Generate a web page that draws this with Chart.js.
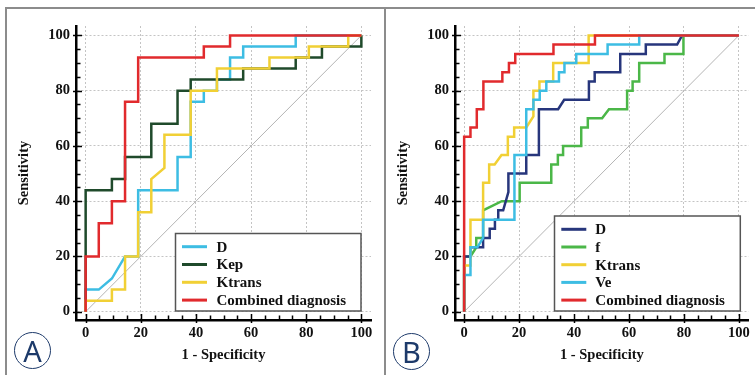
<!DOCTYPE html>
<html>
<head>
<meta charset="utf-8">
<script src="https://cdn.jsdelivr.net/npm/chart.js@4.4.0/dist/chart.umd.min.js"></script>
<style>
    html, body { margin: 0; padding: 0; background: #fff; }
    #wrap { position: relative; width: 755px; height: 375px; overflow: hidden; }
    #wrap canvas { position: absolute; top: 0; }
    .rule { position: absolute; background: #8c8c8c; }
    .badge {
        position: absolute; width: 35px; height: 35px; border: 1.5px solid #1d3a6a;
        border-radius: 50%; color: #1d3a6a; font: 29px "Noto Sans", sans-serif;
        text-align: center; line-height: 35px;
    }
</style>
</head>
<body>
<div id="wrap">
    <div class="rule" style="left:6px;top:7px;width:749px;height:1.5px"></div>
    <div class="rule" style="left:5px;top:7px;width:1.5px;height:368px"></div>
    <div class="rule" style="left:384px;top:7px;width:1.5px;height:368px"></div>
    <canvas id="chartA" width="385" height="375" style="left:0"></canvas>
    <canvas id="chartB" width="370" height="375" style="left:385px"></canvas>
    <div class="badge" style="left:14px;top:332px">A</div>
    <div class="badge" style="left:393px;top:333px">B</div>
</div>
<script>
const tickValues = [0, 20, 40, 60, 80, 100];
const xTitle = "1 - Specificity";
const yTitle = "Sensitivity";

// Panel A
const aLabels = ["D", "Kep", "Ktrans", "Combined diagnosis"];
const aDx = [0, 0, 4.76, 9.52, 14.29, 19.05, 19.05, 33.33, 33.33, 38.1, 38.1, 42.86, 42.86, 47.62, 47.62, 52.38, 52.38, 57.14, 57.14, 76.19, 76.19, 100];
const aDy = [0, 8, 8, 12, 20, 20, 44, 44, 56, 56, 76, 76, 80, 80, 84, 84, 92, 92, 96, 96, 100, 100];
const aKepX = [0, 0, 9.52, 9.52, 14.29, 14.29, 23.81, 23.81, 33.33, 33.33, 38.1, 38.1, 57.14, 57.14, 76.19, 76.19, 85.71, 85.71, 100, 100];
const aKepY = [0, 44, 44, 48, 48, 56, 56, 68, 68, 80, 80, 84, 84, 88, 88, 92, 92, 96, 96, 100];
const aKtransX = [0, 0, 9.52, 9.52, 14.29, 14.29, 19.05, 19.05, 23.81, 23.81, 28.57, 28.57, 38.1, 38.1, 47.62, 47.62, 66.67, 66.67, 80.95, 80.95, 95.24, 95.24, 100];
const aKtransY = [0, 4, 4, 8, 8, 20, 20, 36, 36, 48, 52, 64, 64, 80, 80, 88, 88, 92, 92, 96, 96, 100, 100];
const aCombX = [0, 0, 4.76, 4.76, 9.52, 9.52, 14.29, 14.29, 19.05, 19.05, 42.86, 42.86, 52.38, 52.38, 100];
const aCombY = [0, 20, 20, 32, 32, 40, 40, 76, 76, 92, 92, 96, 96, 100, 100];

// Panel B
const bLabels = ["D", "f", "Ktrans", "Ve", "Combined diagnosis"];
const bDx = [0, 0, 2.3, 2.3, 6.9, 6.9, 9.3, 9.3, 11.2, 11.2, 12.4, 12.4, 14.2, 16.1, 16.1, 22.6, 22.6, 27.2, 27.2, 34.2, 36.4, 45.4, 45.4, 47.5, 47.5, 56.8, 56.8, 66.1, 66.1, 77.5, 79.3, 100];
const bDy = [0, 20, 20, 23.3, 23.3, 26.7, 26.7, 30, 30, 33.3, 33.3, 36.7, 36.7, 43.3, 50, 50, 56.7, 56.7, 73.3, 73.3, 76.7, 76.7, 83.3, 83.3, 86.7, 86.7, 93.3, 93.3, 96.7, 96.7, 100, 100];
const bFx = [0, 0, 2.3, 4.4, 4.4, 6.9, 6.9, 13.7, 20.2, 20.2, 31.7, 31.7, 34.1, 34.1, 36, 36, 42.6, 42.6, 45, 45, 50.2, 52.7, 59.3, 59.3, 61.3, 61.3, 63.7, 63.7, 72.9, 72.9, 79.8, 79.8, 100];
const bFy = [0, 20, 20, 23.3, 26.7, 26.7, 36.7, 40, 40, 46.7, 46.7, 53.3, 53.3, 56.7, 56.7, 60, 60, 66.7, 66.7, 70, 70, 73.3, 73.3, 80, 80, 83.3, 83.3, 90, 90, 93.3, 93.3, 100, 100];
const bKtransX = [0, 0, 2.3, 2.3, 6.9, 6.9, 9.1, 9.1, 11.1, 13.6, 15.9, 15.9, 18.2, 18.2, 22.6, 25.2, 25.2, 27.4, 27.4, 32.4, 32.4, 45.3, 45.3, 100];
const bKtransY = [0, 16.7, 16.7, 33.3, 33.3, 46.7, 46.7, 53.3, 53.3, 56.7, 56.7, 63.3, 63.3, 66.7, 66.7, 70.7, 80, 80, 83.3, 83.3, 90, 90, 100, 100];
const bVeX = [0, 0, 2.3, 2.3, 4.8, 6.9, 6.9, 18.3, 18.3, 22.6, 22.6, 25.2, 25.2, 27.5, 27.5, 29.9, 29.9, 34.5, 34.5, 36.5, 36.5, 40.8, 40.8, 52.2, 52.2, 63.7, 63.7, 100];
const bVeY = [0, 13.3, 13.3, 23.3, 23.3, 26.7, 33.3, 33.3, 56.7, 56.7, 73.3, 73.3, 76.7, 76.7, 80, 80, 83.3, 83.3, 86.7, 86.7, 90, 90, 93.3, 93.3, 96.7, 96.7, 100, 100];
const bCombX = [0, 0, 2.3, 2.3, 4.6, 4.6, 7, 7, 13.9, 13.9, 16.3, 16.3, 18.6, 18.6, 32.5, 32.5, 47.6, 47.6, 100];
const bCombY = [0, 63.3, 63.3, 66.7, 66.7, 73.3, 73.3, 83.3, 83.3, 86.7, 86.7, 90, 90, 93.3, 93.3, 96.7, 96.7, 100, 100];

const RED = "#e12a2d", CYAN = "#3dbde3", DARKGREEN = "#1f4a2b", YELLOW = "#f1d035",
      NAVY = "#27367c", GREEN = "#4bb748";

function toPoints(xs, ys) {
    return xs.map((x, i) => ({x: x, y: ys[i]}));
}

// inward tick marks every 5 units, longer ones at the labelled values
const axisTicks = {
    id: "axisTicks",
    afterDraw(chart) {
        const ctx = chart.ctx;
        const xs = chart.scales.x, ys = chart.scales.y;
        const area = chart.chartArea;
        ctx.save();
        ctx.strokeStyle = "#000";
        ctx.lineWidth = 1.5;
        ctx.beginPath();
        for (let v = 0; v <= 100; v += 5) {
            const major = v % 20 === 0;
            const px = Math.round(xs.getPixelForValue(v)) + 0.5;
            ctx.moveTo(px, area.bottom + (major ? 3 : 0));
            ctx.lineTo(px, area.bottom - (major ? 6 : 4.5));
            const py = Math.round(ys.getPixelForValue(v)) + 0.5;
            ctx.moveTo(area.left - (major ? 3 : 0), py);
            ctx.lineTo(area.left + (major ? 6 : 4.5), py);
        }
        ctx.stroke();
        ctx.restore();
    }
};

// boxed legend sitting in the lower right of the plot
const boxLegend = {
    id: "boxLegend",
    afterDraw(chart, args, opts) {
        const ctx = chart.ctx;
        ctx.save();
        ctx.fillStyle = "#fff";
        ctx.fillRect(opts.left, opts.top, opts.right - opts.left, opts.bottom - opts.top);
        ctx.strokeStyle = "#555";
        ctx.lineWidth = 1.5;
        ctx.strokeRect(opts.left, opts.top, opts.right - opts.left, opts.bottom - opts.top);
        ctx.font = "bold 15px 'Liberation Serif'";
        ctx.textBaseline = "middle";
        ctx.fillStyle = "#111";
        let row = 0;
        chart.data.datasets.forEach((ds) => {
            if (!ds.label) return;
            const y = opts.firstY + row * opts.rowH;
            ctx.strokeStyle = ds.borderColor;
            ctx.lineWidth = 3;
            ctx.beginPath();
            ctx.moveTo(opts.lineX0, y);
            ctx.lineTo(opts.lineX1, y);
            ctx.stroke();
            ctx.fillText(ds.label, opts.textX, y + 1);
            row++;
        });
        ctx.restore();
    }
};

function makeRocChart(canvasId, labels, xsList, ysList, colors, orders, xRange, pad, legendOpts) {
    const datasets = labels.map((label, i) => ({
        label: label,
        data: toPoints(xsList[i], ysList[i]),
        borderColor: colors[i],
        borderWidth: 2.5,
        pointRadius: 0,
        showLine: true,
        tension: 0,
        order: orders[i],
    }));
    // chance line
    datasets.push({
        data: toPoints([0, 100], [0, 100]),
        borderColor: "#b4b4b4",
        borderWidth: 1,
        pointRadius: 0,
        showLine: true,
        order: 20,
    });

    const tickFont = {family: "'Liberation Serif'", weight: "bold", size: 14.5};
    const titleFont = {family: "'Liberation Serif'", weight: "bold", size: 14.5};

    new Chart(document.getElementById(canvasId), {
        type: "scatter",
        data: {datasets: datasets},
        options: {
            responsive: false,
            animation: false,
            layout: {padding: pad},
            plugins: {
                legend: {display: false},
                tooltip: {enabled: false},
                boxLegend: legendOpts,
            },
            scales: {
                x: {
                    type: "linear",
                    min: xRange[0],
                    max: xRange[1],
                    afterBuildTicks: (axis) => { axis.ticks = tickValues.map(v => ({value: v})); },
                    afterFit: (axis) => { axis.height = 55; },
                    grid: {color: "#c4c4c4", lineWidth: 1, drawTicks: false},
                    border: {display: true, color: "#000", width: 2.5, dash: [2, 2]},
                    ticks: {color: "#111", font: tickFont, padding: 5, maxRotation: 0, autoSkip: false},
                    title: {display: true, text: xTitle, color: "#111", font: titleFont, padding: {top: 0, bottom: 11}},
                },
                y: {
                    type: "linear",
                    min: -3,
                    max: 103.4,
                    afterBuildTicks: (axis) => { axis.ticks = tickValues.map(v => ({value: v})); },
                    afterFit: (axis) => { axis.width = 70; },
                    grid: {color: "#c4c4c4", lineWidth: 1, drawTicks: false},
                    border: {display: true, color: "#000", width: 2.5, dash: [2, 2]},
                    ticks: {color: "#111", font: tickFont, padding: 6, autoSkip: false},
                    title: {display: true, text: yTitle, color: "#111", font: titleFont, padding: {top: 10, bottom: 0}},
                },
            },
        },
        plugins: [axisTicks, boxLegend],
    });
}

makeRocChart("chartA", aLabels,
    [aDx, aKepX, aKtransX, aCombX],
    [aDy, aKepY, aKtransY, aCombY],
    [CYAN, DARKGREEN, YELLOW, RED],
    [3, 2, 1, 0],
    [-3.5, 103.5],
    {left: 6, top: 26, right: 14, bottom: 0},
    {left: 175.5, top: 233.5, right: 361, bottom: 311, lineX0: 182, lineX1: 207, textX: 216.5, firstY: 246.7, rowH: 17.8});

makeRocChart("chartB", bLabels,
    [bDx, bFx, bKtransX, bVeX, bCombX],
    [bDy, bFy, bKtransY, bVeY, bCombY],
    [NAVY, GREEN, YELLOW, CYAN, RED],
    [3, 4, 2, 1, 0],
    [-3.33, 103.55],
    {left: 0, top: 26, right: 5, bottom: 0},
    {left: 169.5, top: 216, right: 355.3, bottom: 311, lineX0: 176.3, lineX1: 201.3, textX: 210.3, firstY: 229.3, rowH: 17.7});
</script>
</body>
</html>
